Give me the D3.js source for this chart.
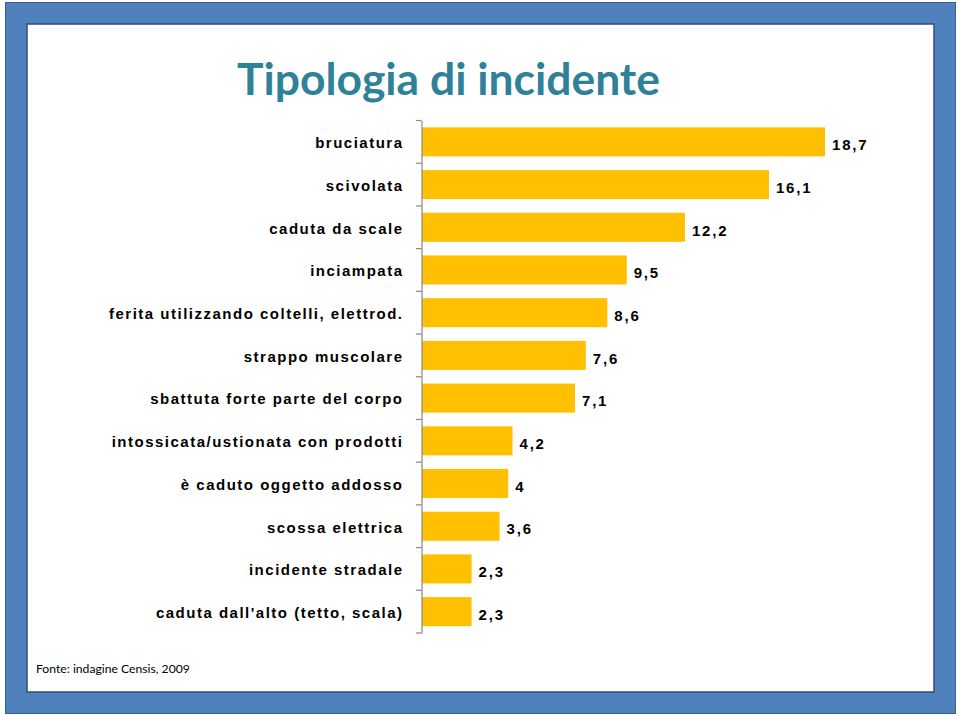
<!DOCTYPE html>
<html><head><meta charset="utf-8">
<script src="https://cdn.jsdelivr.net/npm/d3@7"></script>
<style>html,body{margin:0;padding:0;background:#fff;}svg{display:block;}</style>
</head><body>
<script>
const categories = ["bruciatura","scivolata","caduta da scale","inciampata","ferita utilizzando coltelli, elettrod.","strappo muscolare","sbattuta forte parte del corpo","intossicata/ustionata con prodotti","è caduto oggetto addosso","scossa elettrica","incidente stradale","caduta dall'alto (tetto, scala)"];
const values = [18.7,16.1,12.2,9.5,8.6,7.6,7.1,4.2,4,3.6,2.3,2.3];
const valueLabels = ["18,7","16,1","12,2","9,5","8,6","7,6","7,1","4,2","4","3,6","2,3","2,3"];
const title = "Tipologia di incidente";
const source = "Fonte: indagine Censis, 2009";

const W = 960, H = 716;
const svg = d3.select("body").append("svg").attr("width", W).attr("height", H);

// frame
svg.append("rect").attr("x",5.5).attr("y",2.5).attr("width",950).attr("height",711)
  .attr("fill","#4F81BD").attr("stroke","#3A5F8E").attr("stroke-width",1);
svg.append("rect").attr("x",27).attr("y",24).attr("width",907).attr("height",668)
  .attr("fill","#fff").attr("stroke","#2F4E78").attr("stroke-width",1.5);

// title
const t = svg.append("text").attr("x",448.5).attr("y",95).attr("text-anchor","middle")
  .attr("font-family","Lato, 'Open Sans', sans-serif").attr("font-weight",700)
  .attr("font-size",44).attr("fill","#2E8199").text(title);
const tw = t.node().getComputedTextLength();
t.attr("font-size", 44 * 423 / tw);

const y = d3.scaleBand().domain(categories).range([120.5, 633]).paddingInner(0.32).paddingOuter(0.16);
const x = d3.scaleLinear().domain([0, 18.7]).range([422, 825]);

const font = "'Liberation Sans', Arial, sans-serif";

// bars
svg.append("g").selectAll("rect").data(values).join("rect")
  .attr("x", x(0)).attr("y", (d,i)=>y(categories[i]))
  .attr("width", d=>x(d)-x(0)).attr("height", y.bandwidth())
  .attr("fill","#FFC000");

// axis
const axis = d3.axisLeft(y).tickSize(0).tickPadding(18);
const ag = svg.append("g").attr("transform",`translate(${x(0)-0.5},0)`).call(axis);
ag.select(".domain").attr("stroke","#868686").attr("stroke-width",1.2);
ag.selectAll("text").attr("font-family",font).attr("font-weight",700).attr("font-size",15)
  .attr("letter-spacing","1.5px").attr("fill","#000").attr("dy","0.42em");
// ticks at band boundaries
const step = y.step();
const r0 = y.range()[0];
const bounds = d3.range(categories.length+1).map(i => r0 + i*step);
svg.append("g").selectAll("line").data(bounds).join("line")
  .attr("x1", x(0)-6).attr("x2", x(0)-0.5).attr("y1", d=>d).attr("y2", d=>d)
  .attr("stroke","#868686").attr("stroke-width",1.2);

// value labels
svg.append("g").selectAll("text").data(values).join("text")
  .attr("x", d => x(d) + 7).attr("y", (d,i)=>y(categories[i]) + y.bandwidth()/2 + 3)
  .attr("dy","0.35em")
  .attr("font-family",font).attr("font-weight",700).attr("font-size",15)
  .attr("letter-spacing","1.8px").attr("fill","#000")
  .text((d,i)=>valueLabels[i]);

// source
const s = svg.append("text").attr("x",36).attr("y",673)
  .attr("font-family","'Liberation Sans Narrow', Lato, sans-serif").attr("font-size",14).attr("fill","#000")
  .text(source);
const sw = s.node().getComputedTextLength();
s.attr("font-size", 14 * 154 / sw);
</script>
</body></html>
